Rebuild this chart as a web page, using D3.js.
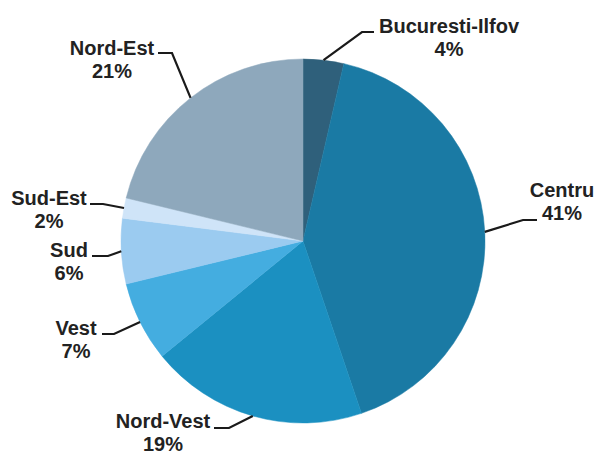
<!DOCTYPE html>
<html>
<head>
<meta charset="utf-8">
<script src="https://cdn.jsdelivr.net/npm/d3@7"></script>
<style>
  html, body { margin: 0; padding: 0; background: #ffffff; }
  svg { display: block; }
</style>
</head>
<body>
<svg id="chart" width="595" height="455"></svg>
<script>
// ---- data ----
const regions = ["Bucuresti-Ilfov", "Centru", "Nord-Vest", "Vest", "Sud", "Sud-Est", "Nord-Est"];
const shares  = [3.6, 41.2, 19.3, 7.1, 5.8, 1.8, 21.2];
const colors  = ["#2f607b", "#1a7aa4", "#1b90c1", "#44ade0", "#9bcbf0", "#cfe4f8", "#8ea8bc"];

// ---- label layout (text centre x, first-line baseline y, leader horizontal segment) ----
const labelLayout = [
  { tx: 449, ty: 33,  hx1: 374, hx2: 362, hy: 32 },
  { tx: 562, ty: 197, hx1: 537, hx2: 523, hy: 220 },
  { tx: 163, ty: 428, hx1: 214, hx2: 229, hy: 428 },
  { tx: 76,  ty: 335, hx1: 102, hx2: 114, hy: 334 },
  { tx: 69,  ty: 257, hx1: 92,  hx2: 108, hy: 256 },
  { tx: 49,  ty: 205, hx1: 90,  hx2: 103, hy: 204 },
  { tx: 112, ty: 55,  hx1: 158, hx2: 172, hy: 53 }
];

const cx = 303, cy = 241, R = 182;
const svg = d3.select("#chart");

const data = regions.map((r, i) => ({ region: r, value: shares[i], color: colors[i], layout: labelLayout[i] }));

const pie = d3.pie().sort(null).value(d => d.value);
const arcs = pie(data);
const arc = d3.arc().innerRadius(0).outerRadius(R);
const edgeArc = d3.arc().innerRadius(R).outerRadius(R);

const g = svg.append("g").attr("transform", `translate(${cx},${cy})`);
g.selectAll("path.slice")
  .data(arcs)
  .join("path")
  .attr("class", "slice")
  .attr("d", arc)
  .attr("fill", d => d.data.color)
  .attr("stroke", d => d.data.color)
  .attr("stroke-width", 0.5);

// leaders
const lines = svg.append("g");
arcs.forEach(a => {
  const L = a.data.layout;
  const [ex, ey] = edgeArc.centroid(a);
  const pts = [[L.hx1, L.hy], [L.hx2, L.hy], [cx + ex, cy + ey]];
  lines.append("path")
    .attr("d", d3.line()(pts))
    .attr("fill", "none")
    .attr("stroke", "#1a1a1a")
    .attr("stroke-width", 2.2);
});

// labels
const labels = svg.append("g")
  .attr("font-family", "'Liberation Sans', Arial, sans-serif")
  .attr("font-size", 20)
  .attr("font-weight", "bold")
  .attr("fill", "#222222")
  .attr("text-anchor", "middle");

arcs.forEach(a => {
  const L = a.data.layout;
  const t = labels.append("text").attr("x", L.tx).attr("y", L.ty);
  t.append("tspan").attr("x", L.tx).attr("y", L.ty).text(a.data.region);
  t.append("tspan").attr("x", L.tx).attr("y", L.ty + 23).text(Math.round(a.data.value) + "%");
});
</script>
</body>
</html>
